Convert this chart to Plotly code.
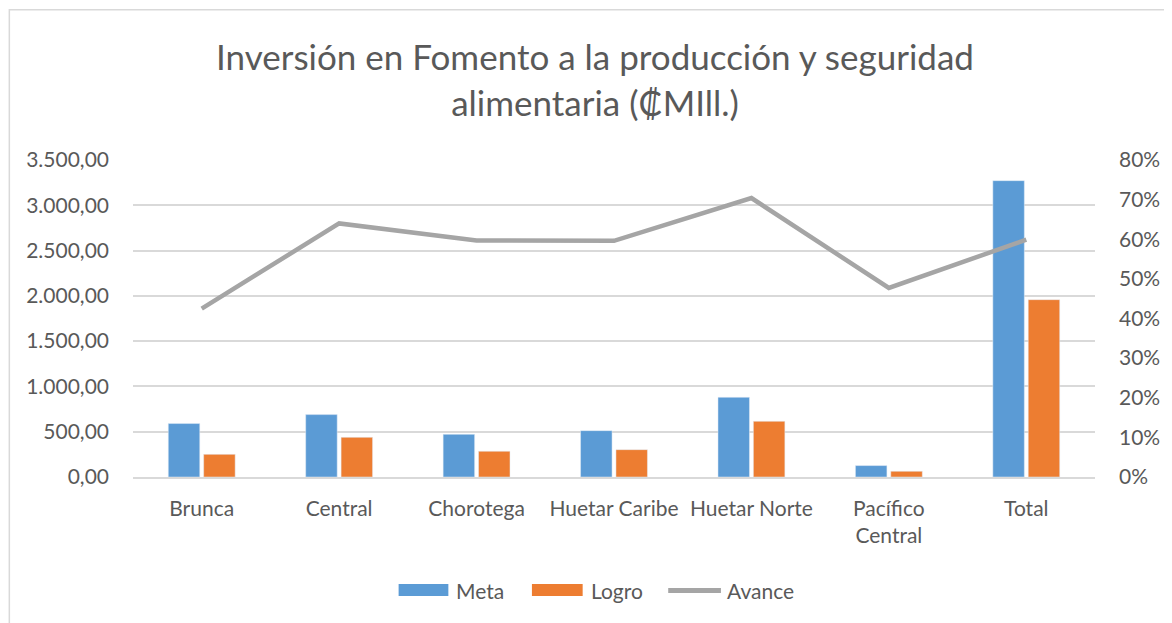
import plotly.graph_objects as go

categories = ["Brunca", "Central", "Chorotega", "Huetar Caribe", "Huetar Norte", "Pacífico Central", "Total"]
tick_labels = ["Brunca", "Central", "Chorotega", "Huetar Caribe", "Huetar Norte", "Pacífico<br>Central", "Total"]
meta = [590, 689, 471, 512, 880, 126, 3272]
logro = [250, 438, 284, 302, 615, 63, 1958]
avance = [0.425, 0.640, 0.597, 0.596, 0.704, 0.477, 0.599]

OFF = 8  # page body margin offset
W, H = 1172 - OFF, 623 - OFF
# plot area in screenshot (absolute) pixels
PL, PR, PT, PB = 133, 1100, 160, 477
L, R, T, B = PL - OFF, W - (PR - OFF), PT - OFF, H - (PB - OFF)
PW, PH = PR - PL, PB - PT

def px(x):
    return (x - PL) / PW

def py(y):
    return (PB - y) / PH

FONT = "Lato"
GREY = "#595959"
BLUE = "#5b9bd5"
ORANGE = "#ed7d31"
LINEC = "#a5a5a5"

fig = go.Figure()
fig.add_trace(go.Bar(x=categories, y=meta, name="Meta", marker_color=BLUE, showlegend=False))
fig.add_trace(go.Bar(x=categories, y=logro, name="Logro", marker_color=ORANGE, showlegend=False))
fig.add_trace(go.Scatter(x=categories, y=avance, name="Avance", mode="lines",
                         line=dict(color=LINEC, width=4.5), yaxis="y2", showlegend=False))

shapes = [
    # chart frame
    dict(type="rect", xref="paper", yref="paper", x0=px(8.7), x1=px(1200), y0=py(9.7), y1=py(660),
         line=dict(color="#d9d9d9", width=1.5), fillcolor="rgba(0,0,0,0)", layer="below"),
    # legend swatches
    dict(type="rect", xref="paper", yref="paper", x0=px(400), x1=px(450), y0=py(584), y1=py(596),
         fillcolor=BLUE, line=dict(width=0)),
    dict(type="rect", xref="paper", yref="paper", x0=px(534), x1=px(585), y0=py(584), y1=py(596),
         fillcolor=ORANGE, line=dict(width=0)),
    dict(type="line", xref="paper", yref="paper", x0=px(671), x1=px(724), y0=py(590.5), y1=py(590.5),
         line=dict(color=LINEC, width=5)),
]
annotations = [
    dict(text="Meta", xref="paper", yref="paper", x=px(456), y=py(590), xanchor="left", yanchor="middle",
         showarrow=False, font=dict(family=FONT, size=21, color=GREY)),
    dict(text="Logro", xref="paper", yref="paper", x=px(591), y=py(590), xanchor="left", yanchor="middle",
         showarrow=False, font=dict(family=FONT, size=21, color=GREY)),
    dict(text="Avance", xref="paper", yref="paper", x=px(728), y=py(590), xanchor="left", yanchor="middle",
         showarrow=False, font=dict(family=FONT, size=21, color=GREY)),
]

fig.update_layout(
    width=W, height=H,
    margin=dict(l=L, r=R, t=T, b=B),
    paper_bgcolor="white", plot_bgcolor="white",
    separators=",.",
    font=dict(family=FONT, size=21, color=GREY),
    title=dict(text="Inversión en Fomento a la producción y seguridad<br>alimentaria (₡MIll.)",
               x=(595 - OFF) / W, xanchor="center", y=1 - (70 - OFF) / H, yanchor="middle",
               font=dict(family=FONT, size=35, color=GREY)),
    bargap=0.485, bargroupgap=0.11,
    xaxis=dict(tickvals=categories, ticktext=tick_labels, showgrid=False, showline=True,
               linecolor="#d9d9d9", linewidth=1.5, ticks="", ticklabelstandoff=12,
               tickfont=dict(size=21)),
    yaxis=dict(range=[0, 3500], dtick=500, tickformat=",.2f", showgrid=True, gridcolor="#d9d9d9",
               gridwidth=1.5, zeroline=False, ticks="", ticklabelstandoff=23, tickfont=dict(size=21)),
    yaxis2=dict(range=[0, 0.8], dtick=0.1, tickformat=".0%", overlaying="y", side="right",
                showgrid=False, zeroline=False, ticks="", ticklabelstandoff=23, tickfont=dict(size=21)),
    shapes=shapes, annotations=annotations,
)

fig.write_html("out.html")
